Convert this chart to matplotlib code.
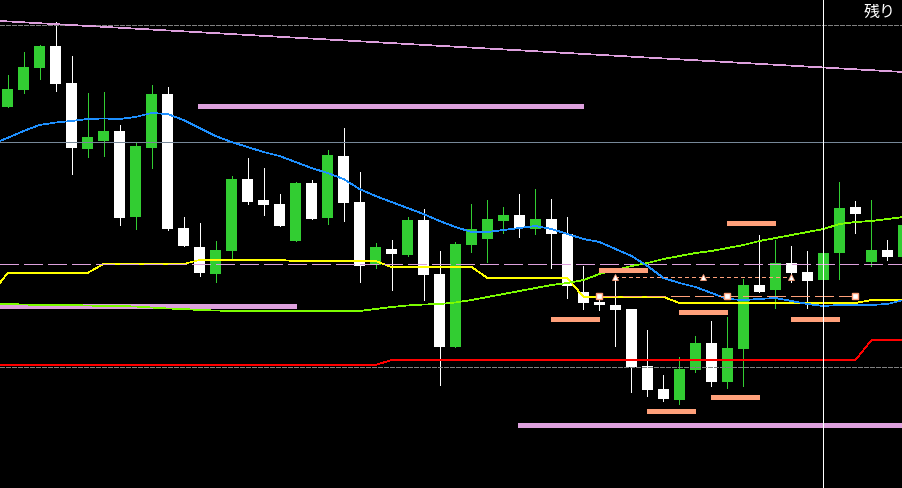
import matplotlib.pyplot as plt

plt.rcParams['lines.scale_dashes'] = False
plt.rcParams['lines.antialiased'] = False
plt.rcParams['patch.antialiased'] = False

# candle data (price axis runs top-down)
opens = [107, 90, 68, 46, 83, 149, 141, 131, 217, 148, 94, 228, 247, 274, 251, 179, 200, 204, 241, 183,
         218, 156, 202, 265, 249, 255, 220, 274, 347, 245, 239, 221, 215, 229, 219, 234, 292, 302, 305, 309,
         366, 389, 400, 370, 343, 382, 349, 285, 290, 263, 272, 280, 253, 207, 262, 250, 257]
closes = [89, 67, 46, 84, 148, 137, 131, 218, 146, 94, 229, 246, 273, 250, 179, 202, 205, 226, 183, 219,
          155, 203, 266, 247, 254, 220, 275, 347, 244, 229, 219, 215, 228, 219, 234, 286, 303, 305, 310, 367,
          390, 399, 369, 343, 382, 348, 285, 292, 263, 273, 281, 253, 208, 214, 250, 257, 225]
highs = [75, 52, 45, 22, 56, 93, 92, 125, 142, 85, 87, 217, 223, 241, 176, 158, 168, 194, 182, 180,
         150, 128, 172, 243, 240, 217, 209, 251, 242, 204, 200, 207, 194, 189, 199, 217, 266, 293, 275, 309,
         330, 375, 357, 336, 321, 317, 279, 235, 240, 246, 251, 253, 182, 201, 200, 240, 225]
lows = [107, 93, 79, 91, 174, 157, 156, 225, 229, 168, 230, 246, 276, 282, 258, 204, 215, 226, 241, 219,
        224, 221, 282, 268, 290, 256, 300, 385, 347, 252, 262, 233, 237, 234, 268, 298, 309, 310, 346, 392,
        396, 401, 404, 372, 386, 388, 386, 292, 308, 282, 308, 280, 279, 233, 266, 260, 257]

# indicator lines, one value per bar starting at bar -1 (just off the left edge)
ma_blue = [144, 138, 131, 125, 122.5, 121, 119, 118.5, 119, 117, 113, 114, 120, 128, 136, 142, 147, 152, 156, 162,
           168, 173, 179, 189, 196, 202, 208, 214, 221, 227, 232, 232, 230, 228, 226, 229, 234, 239, 242, 249,
           256, 266, 278, 283, 287, 293, 299, 300, 299, 298, 301, 304, 306, 305, 305, 305, 304, 300]
line_yellow = [294] + [273] * 6 + [264] * 6 + [260] * 6 + [261] * 6 + [267] * 6 + [278] * 6 + [297] * 6 \
    + [303] * 12 + [300] * 3
line_green = [304, 304, 304.5, 305, 305, 305, 305.5, 306, 306, 306.5, 307.5, 308.5, 309, 310, 310.5, 311, 311, 311,
              311, 311, 311, 311, 311, 311, 309, 307, 305.5, 304.5, 304, 302.5, 300, 297, 294, 291, 288, 285,
              283, 280, 274, 270, 266, 263, 259, 256, 253, 251, 248, 245, 241, 238, 235, 232, 229, 224, 222,
              221, 219, 217]
line_red = [365] * 25 + [360] * 30 + [340] * 3

# trend line anchors (bar, price)
trend_a = (0, 21.4)
trend_b = (55, 71.1)

# horizontal levels
gray_levels = [25, 367]
steel_level = 142
plum_dash_level = 264
plum_levels = [106, 306, 425]
plum_start = [11.9, -1, 31.9]
plum_end = [36.0, 18.0, 57]
salmon_levels = [223, 270, 319, 312, 319, 397, 411]
salmon_start = [45, 37, 34, 42, 49, 44, 40]
salmon_len = 3
dotted_level = 277
dotted_bars = [38, 43.5, 49]
dashed_level = 296
dashed_bars = [37, 45, 53]
cursor_bar = 51

fig = plt.figure(figsize=(9.03, 4.88), dpi=100, facecolor='black')
ax = fig.add_axes([0, 0, 1, 1])
ax.set_facecolor('black')

n = len(opens)
xs = list(range(n))
body_colors = ['#32cd32' if c < o else 'white' for o, c in zip(opens, closes)]
ax.vlines(xs, highs, lows, colors=body_colors, lw=0.6, antialiased=False, zorder=2)
ax.bar(xs, [c - o for o, c in zip(opens, closes)], bottom=opens, width=0.69,
       color=body_colors, linewidth=0, zorder=3)

px = 0.5
for lvl in gray_levels:
    ax.axhline(lvl, color='#808080', lw=px, dashes=(2.9, 1.4), zorder=4)
ax.axhline(steel_level, color='#778899', lw=px, zorder=4)
ax.axline(trend_a, trend_b, color='#dda0dd', lw=px, zorder=4)

ax.hlines(plum_levels, plum_start, plum_end, colors='#dda0dd', lw=2.2, antialiased=False, zorder=4)
ax.axhline(plum_dash_level, color='#dda0dd', lw=px, dashes=(13, 4.3), zorder=5)

bars_ext = list(range(-1, n))
ax.plot(bars_ext, line_red, color='red', lw=px, zorder=5)
ax.plot(bars_ext, line_green, color='#7cfc00', lw=px, zorder=5)
ax.plot(bars_ext, line_yellow, color='yellow', lw=px, zorder=4.5)
ax.plot(bars_ext, ma_blue, color='#1e90ff', lw=px, zorder=5)

ax.hlines(salmon_levels, salmon_start, [s + salmon_len for s in salmon_start],
          colors='#ffa07a', lw=2.2, antialiased=False, zorder=6)
ax.plot([dotted_bars[0], dotted_bars[-1]], [dotted_level] * 2, color='#ffa07a', lw=px,
        dashes=(2.2, 2.2), zorder=6)
ax.plot(dotted_bars, [dotted_level] * len(dotted_bars), ls='none', marker='^', ms=4,
        mfc='white', mec='#ffa07a', mew=0.6, zorder=7)
ax.plot([dashed_bars[0], dashed_bars[-1]], [dashed_level] * 2, color='#ffa07a', lw=px,
        dashes=(13, 4.3), zorder=6)
ax.plot(dashed_bars, [dashed_level] * len(dashed_bars), ls='none', marker='s', ms=4,
        mfc='white', mec='#ffa07a', mew=1, zorder=7)

ax.axvline(cursor_bar - 0.06, color='white', lw=px, zorder=8)

ax.set_xlim(-0.47, 55.97)
ax.set_ylim(488, 0)
ax.axis('off')

fig.text(864 / 903, 1 - 4 / 488, '残り', color='white', fontsize=11.5, va='top', ha='left',
         family=['Noto Sans CJK JP', 'DejaVu Sans'])

fig.savefig('out.png', dpi=100, facecolor='black')
